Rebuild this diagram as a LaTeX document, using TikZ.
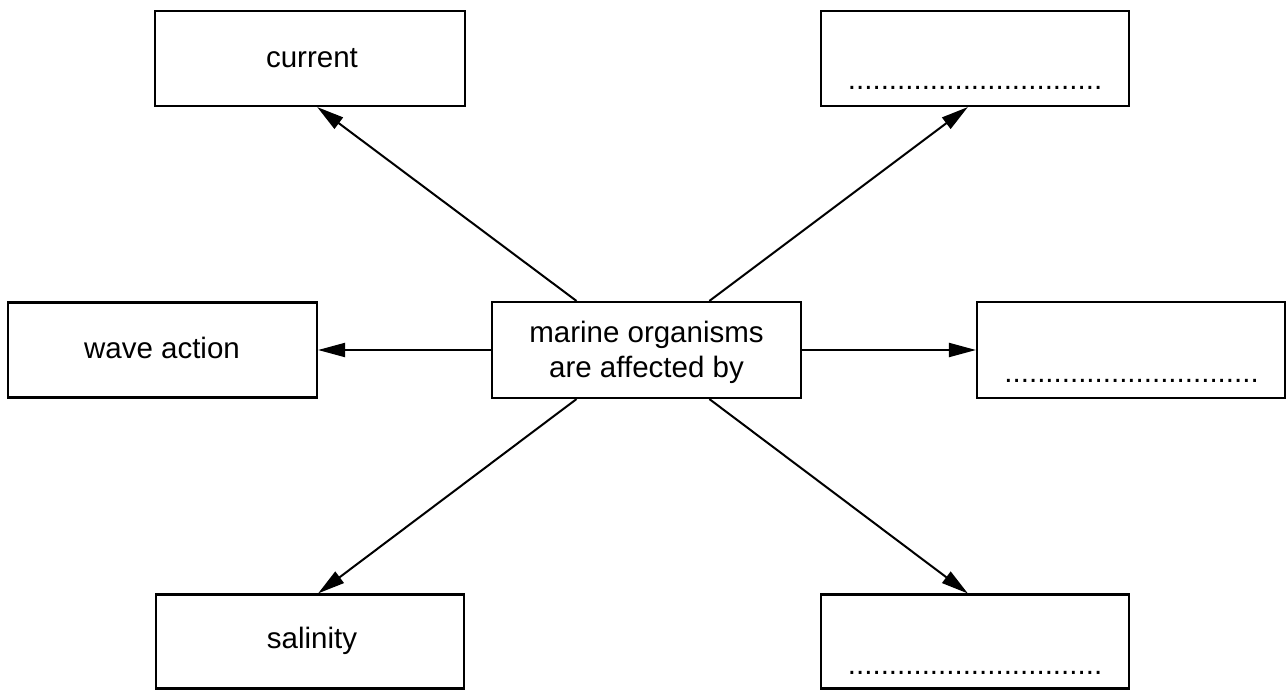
\documentclass[tikz,border=0pt]{standalone}
\usepackage{fontspec}
\setmainfont{Liberation Sans}
\usetikzlibrary{arrows.meta,calc}
\tikzset{
  box/.style={draw, line width=2.1pt, inner sep=0pt, minimum width=#1},
  box/.default=310pt,
  lbl/.style={inner sep=0pt, anchor=base, font=\fontsize{29.5}{35}\selectfont},
  conn/.style={line width=2pt, -{Triangle[length=27pt,width=14pt]}}
}
\begin{document}
\begin{tikzpicture}[x=1pt,y=-1pt]
\useasboundingbox (0,0) rectangle (1287,690);
% boxes
\node[box=310pt, minimum height=95pt] (cur) at (310,58.5) {};
\node[box=308pt, minimum height=95pt] (tr) at (975,58.5) {};
\node[box=309pt, minimum height=95pt] (wave) at (162.5,350) {};
\node[box=309pt, minimum height=96pt] (c) at (646.5,350) {};
\node[box=308pt, minimum height=96pt] (rt) at (1131,350) {};
\node[box=308pt, minimum height=94pt] (sal) at (310,641.5) {};
\node[box=308pt, minimum height=94pt] (br) at (975,641.5) {};
% texts
\node[lbl] (tcur) at (312,68) {current};
\node[lbl] (ttr) at (975,90) {...............................};
\node[lbl] (twave) at (162,358) {wave action};
\node[lbl] (tc1) at (646.5,342) {marine organisms};
\node[lbl] (tc2) at (646.5,377) {are affected by};
\node[lbl] (trt) at (1131.5,382) {...............................};
\node[lbl] (tsal) at (312,648) {salinity};
\node[lbl] (tbr) at (975,674) {...............................};
% connectors
\draw[conn] ($(c.north west)!0.275!(c.north east)$) -- ($(cur.south west)!0.523!(cur.south east)$);
\draw[conn] ($(c.north west)!0.702!(c.north east)$) -- ($(tr.south west)!0.477!(tr.south east)$);
\draw[conn] (c.west) -- (wave.east);
\draw[conn] (c.east) -- (rt.west);
\draw[conn] ($(c.south west)!0.275!(c.south east)$) -- ($(sal.north west)!0.526!(sal.north east)$);
\draw[conn] ($(c.south west)!0.702!(c.south east)$) -- ($(br.north west)!0.477!(br.north east)$);
\end{tikzpicture}
\end{document}
